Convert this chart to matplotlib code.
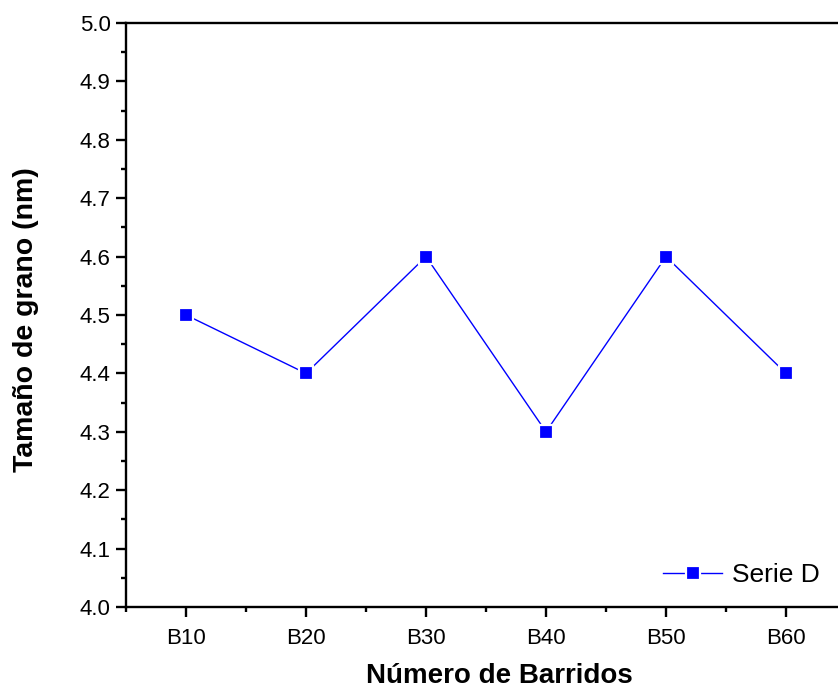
import matplotlib
matplotlib.use("Agg")
import matplotlib.pyplot as plt
from matplotlib.ticker import MultipleLocator, FormatStrFormatter

# data
barridos = ["B10", "B20", "B30", "B40", "B50", "B60"]
tamano = [4.5, 4.4, 4.6, 4.3, 4.6, 4.4]

plt.rcParams["font.family"] = ["Liberation Sans", "DejaVu Sans"]

fig = plt.figure(figsize=(8.38, 6.92), dpi=100)
# axes run past the right edge, as in the original
ax = fig.add_axes([126 / 838, 85 / 692, 720 / 838, 584 / 692])

xs = list(range(1, len(barridos) + 1))
# white marker edge gives the small gap between line and marker
ax.plot(xs, tamano, "-", color="#0000ff", lw=1.0, marker="s", ms=10.5,
        mfc="#0000ff", mec="white", mew=1.6, label="Serie D")

ax.set_xlim(0.5, 6.5)
ax.set_ylim(4.0, 5.0)
ax.set_xticks(xs)
ax.set_xticklabels(barridos)
ax.xaxis.set_minor_locator(MultipleLocator(0.5))
ax.yaxis.set_major_locator(MultipleLocator(0.1))
ax.yaxis.set_minor_locator(MultipleLocator(0.05))
ax.yaxis.set_major_formatter(FormatStrFormatter("%.1f"))

for s in ax.spines.values():
    s.set_linewidth(1.7)
ax.tick_params(which="major", direction="out", length=7, width=1.7, labelsize=16, pad=4)
ax.tick_params(which="minor", direction="out", length=3.6, width=1.7)
ax.tick_params(axis="x", which="major", pad=8)

ax.set_xlabel("Número de Barridos", fontsize=20, fontweight="bold")
ax.set_ylabel("Tamaño de grano (nm)", fontsize=20.5, fontweight="bold")
ax.xaxis.set_label_coords((499 - 126) / 720, -(676 - 607) / 584)
ax.yaxis.set_label_coords(-(126 - 26) / 720, (607 - 320) / 584)
ax.xaxis.label.set_va("center")
ax.yaxis.label.set_va("center")

ax.legend(loc="center left", bbox_to_anchor=(663 / 838, 1 - 575 / 692),
          bbox_transform=fig.transFigure, frameon=False, fontsize=19,
          handlelength=2.25, handletextpad=0.35, borderpad=0, borderaxespad=0)

fig.savefig("out.png", dpi=100)
